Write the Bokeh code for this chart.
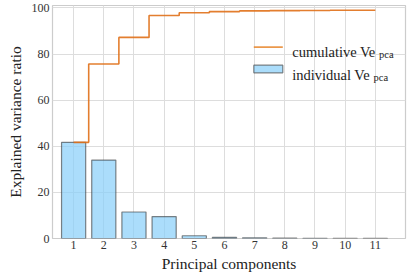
from bokeh.plotting import figure
from bokeh.models import Range1d, FixedTicker, Label, BoxAnnotation, ColumnDataSource
from bokeh.embed import file_html
from bokeh.resources import INLINE

components = [1, 2, 3, 4, 5, 6, 7, 8, 9, 10, 11]
individual = [41.7, 34.0, 11.5, 9.5, 1.2, 0.5, 0.3, 0.12, 0.08, 0.05, 0.03]
cumulative = [41.7, 75.7, 87.2, 96.7, 97.9, 98.4, 98.7, 98.8, 98.9, 98.95, 99.0]
y_ticks = [0, 20, 40, 60, 80, 100]

FONT = "Liberation Serif"

p = figure(width=408, height=277, output_backend="svg", toolbar_location=None,
           x_range=Range1d(0.3, 12.0), y_range=Range1d(0, 101.04),
           min_border_left=52, min_border_right=3, min_border_top=5, min_border_bottom=39)

src = ColumnDataSource(dict(x=components, ind=individual, cum=cumulative))
p.vbar(x="x", top="ind", width=0.8, source=src, fill_color="#87cefa", fill_alpha=0.7,
       line_color="#333333", line_alpha=0.6, line_width=1.2)
p.step(x="x", y="cum", mode="center", source=src, line_color="#e07018", line_width=1.6, line_alpha=0.9)

p.outline_line_color = "#cccccc"
p.outline_line_width = 1.2
p.background_fill_color = "white"
p.border_fill_color = "white"

for g in (p.xgrid, p.ygrid):
    g.grid_line_color = "#dddddd"
    g.grid_line_width = 1
p.xaxis.ticker = FixedTicker(ticks=components)
p.yaxis.ticker = FixedTicker(ticks=y_ticks)

for ax in (p.xaxis, p.yaxis):
    ax.axis_line_color = None
    ax.major_tick_line_color = None
    ax.minor_tick_line_color = None
    ax.major_tick_out = 0
    ax.major_tick_in = 0
    ax.minor_tick_out = 0
    ax.minor_tick_in = 0
    ax.major_label_text_font = FONT
    ax.major_label_text_font_size = "12px"
    ax.major_label_text_color = "#333333"
    ax.axis_label_text_font = FONT
    ax.axis_label_text_font_size = "15.5px"
    ax.axis_label_text_font_style = "normal"
    ax.axis_label_text_color = "#222222"

p.xaxis.major_label_standoff = 2
p.xaxis.axis_label_standoff = 3
p.yaxis.major_label_standoff = 3
p.yaxis.axis_label_standoff = 5

p.xaxis.axis_label = "Principal components"
p.yaxis.axis_label = "Explained variance ratio"

# legend (drawn in screen units, relative to the frame's bottom-left)
legend_items = ["cumulative Ve", "individual Ve"]
sub = "pca"
p.add_layout(BoxAnnotation(left=201.3, right=230.3, bottom=190.4, top=192.2,
                           left_units="screen", right_units="screen",
                           bottom_units="screen", top_units="screen",
                           fill_color="#e8862c", fill_alpha=0.85, line_color=None))
p.add_layout(BoxAnnotation(left=201.3, right=230.3, bottom=165.7, top=173.3,
                           left_units="screen", right_units="screen",
                           bottom_units="screen", top_units="screen",
                           fill_color="#87cefa", fill_alpha=0.7, line_color="#333333",
                           line_alpha=0.6, line_width=1.2))
for lbl, yb, xs in zip(legend_items, [186.7, 164.0], [326.5, 321.0]):
    p.add_layout(Label(x=239.7, y=yb, x_units="screen", y_units="screen", text=lbl,
                       text_font=FONT, text_font_size="14.5px", text_color="#222222",
                       text_baseline="alphabetic"))
    p.add_layout(Label(x=xs, y=yb - 2.5, x_units="screen", y_units="screen", text=sub,
                       text_font=FONT, text_font_size="10.5px", text_color="#222222",
                       text_baseline="alphabetic"))

open("out.html", "w").write(file_html(p, INLINE))
